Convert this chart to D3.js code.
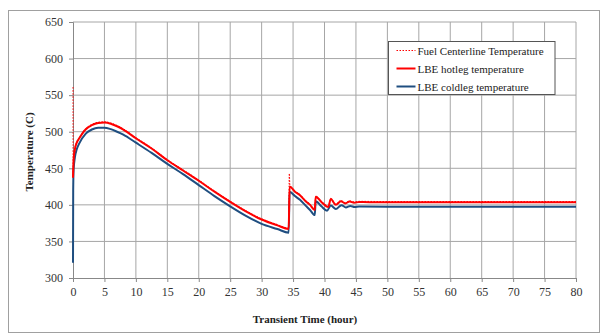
<!DOCTYPE html>
<html>
<head>
<meta charset="utf-8">
<script src="https://cdn.jsdelivr.net/npm/d3@7"></script>
<style>
  body { margin: 0; background: #fff; }
  svg { display: block; font-family: "Liberation Serif", "Times New Roman", serif; }
</style>
</head>
<body>
<div id="chart"></div>
<script>
// values (hours, degrees C)
const hotTime = [0, 0.1, 0.3, 0.6, 1, 2, 3, 4, 5, 6, 7, 8, 10, 12.5, 15, 17.5, 20, 22.5, 25, 27.5, 30, 32.5, 34.3,
  34.45, 35.3, 36.1, 37, 37.7, 38.45, 38.6, 39.5, 40.6, 41, 41.8, 42.6, 43.3, 44, 44.7, 45.5, 50, 60, 70, 80];
const hotTemp = [437, 462, 476, 485, 491, 503, 509, 512, 512.5, 511, 507.5, 503, 491, 477, 461, 447, 433, 418, 404, 391, 380, 372, 367,
  425, 418, 413, 405, 400, 393, 411, 404, 397, 408, 400, 405, 402, 404.5, 403, 403.8, 403.5, 403.5, 403.5, 403.5];

const coldTime = [0, 0.03, 0.1, 0.3, 0.6, 1, 2, 3, 4, 5, 6, 7, 8, 10, 12.5, 15, 17.5, 20, 22.5, 25, 27.5, 30, 32.5, 34.3,
  34.45, 35.3, 36.1, 37, 37.7, 38.45, 38.6, 39.5, 40.4, 41, 41.8, 42.7, 43.4, 44.1, 44.8, 45.5, 50, 60, 70, 80];
const coldTemp = [321, 420, 448, 465, 476, 484, 497, 503, 505.5, 505.5, 503.5, 500, 496, 485, 471, 456, 442, 427, 412, 398, 385, 374, 367, 362,
  418, 412, 407, 399, 393, 386, 405, 398, 392, 399, 394.3, 399.5, 396.5, 398.5, 397.2, 397.7, 397.5, 397.5, 397.5, 397.5];

const fuelTime = [0, 0.02, 0.1, 0.3, 0.6, 1, 2, 3, 4, 5, 6, 7, 8, 10, 12.5, 15, 17.5, 20, 22.5, 25, 27.5, 30, 32.5, 34.3,
  34.4, 34.5, 35.3, 36.1, 37, 37.7, 38.45, 38.6, 39.5, 40.6, 41, 41.8, 42.6, 43.3, 44, 44.7, 45.5, 50, 60, 70, 80];
const fuelTemp = [561, 440, 463, 477, 486, 492, 504, 510, 513, 513.5, 512, 508.5, 504, 492, 478, 462, 448, 434, 419, 405, 392, 381, 373, 368,
  443, 426, 419, 414, 406, 401, 394, 412, 405, 398, 409, 401, 406, 403, 405.5, 404, 404.8, 404.5, 404.5, 404.5, 404.5];

const xTicks = d3.range(0, 81, 5);
const yTicks = d3.range(300, 651, 50);

const legendItems = [
  { label: "Fuel Centerline Temperature", color: "#ff0000", dash: "1.5,1.5", width: 1 },
  { label: "LBE hotleg temperature", color: "#ff0000", dash: null, width: 2 },
  { label: "LBE coldleg temperature", color: "#1f4e80", dash: null, width: 2 }
];

const W = 605, H = 333;
const plot = { left: 73, right: 576, top: 22, bottom: 278 };
const serif = "Liberation Serif, Times New Roman, serif";

const svg = d3.select("#chart").append("svg")
  .attr("width", W)
  .attr("height", H);

// outer chart border
svg.append("rect")
  .attr("x", 8.5).attr("y", 10.5)
  .attr("width", 591).attr("height", 322)
  .attr("fill", "#fff")
  .attr("stroke", "#a0a0a0");

const x = d3.scaleLinear().domain([0, 80]).range([plot.left, plot.right]);
const y = d3.scaleLinear().domain([300, 650]).range([plot.bottom, plot.top]);

// gridlines
svg.append("g")
  .selectAll("line")
  .data(xTicks.slice(1))
  .join("line")
  .attr("x1", d => x(d)).attr("x2", d => x(d))
  .attr("y1", plot.top).attr("y2", plot.bottom)
  .attr("stroke", "#a6a6a6").attr("stroke-width", 1);

svg.append("g")
  .selectAll("line")
  .data(yTicks.slice(1))
  .join("line")
  .attr("x1", plot.left).attr("x2", plot.right)
  .attr("y1", d => y(d)).attr("y2", d => y(d))
  .attr("stroke", "#a6a6a6").attr("stroke-width", 1);

// axes
const xAxis = d3.axisBottom(x).tickValues(xTicks).tickSize(4).tickPadding(5);
const yAxis = d3.axisLeft(y).tickValues(yTicks).tickSize(4).tickPadding(6);

const gx = svg.append("g")
  .attr("transform", "translate(0," + plot.bottom + ")")
  .call(xAxis);
const gy = svg.append("g")
  .attr("transform", "translate(" + plot.left + ",0)")
  .call(yAxis);

[gx, gy].forEach(g => {
  g.attr("font-family", serif).attr("font-size", 12);
  g.select(".domain").attr("stroke", "#888");
  g.selectAll(".tick line").attr("stroke", "#888");
  g.selectAll(".tick text").attr("fill", "#333");
});

// series
const line = d3.line()
  .x(d => x(d[0]))
  .y(d => y(d[1]))
  .curve(d3.curveMonotoneX);

const fuel = d3.zip(fuelTime, fuelTemp);
const hot = d3.zip(hotTime, hotTemp);
const cold = d3.zip(coldTime, coldTemp);

svg.append("path")
  .datum(cold)
  .attr("d", line)
  .attr("fill", "none")
  .attr("stroke", legendItems[2].color)
  .attr("stroke-width", 2);

svg.append("path")
  .datum(fuel)
  .attr("d", line)
  .attr("fill", "none")
  .attr("stroke", legendItems[0].color)
  .attr("stroke-width", 1)
  .attr("stroke-dasharray", legendItems[0].dash);

svg.append("path")
  .datum(hot)
  .attr("d", line)
  .attr("fill", "none")
  .attr("stroke", legendItems[1].color)
  .attr("stroke-width", 2);

// axis titles
svg.append("text")
  .attr("x", 305).attr("y", 323)
  .attr("text-anchor", "middle")
  .attr("font-family", serif)
  .style("font-size", "11px")
  .style("font-weight", "bold")
  .attr("fill", "#222")
  .text("Transient Time (hour)");

svg.append("text")
  .attr("transform", "translate(33,152) rotate(-90)")
  .attr("text-anchor", "middle")
  .attr("font-family", serif)
  .style("font-size", "11px")
  .style("font-weight", "bold")
  .attr("fill", "#222")
  .text("Temperature (C)");

// legend
const lg = svg.append("g").attr("transform", "translate(388.5,41.5)");
lg.append("rect")
  .attr("width", 166.5).attr("height", 53)
  .attr("fill", "#fff")
  .attr("stroke", "#555");

const row = lg.selectAll("g")
  .data(legendItems)
  .join("g")
  .attr("transform", (d, i) => "translate(0," + (9 + i * 18) + ")");

row.append("line")
  .attr("x1", 8).attr("x2", 27)
  .attr("stroke", d => d.color)
  .attr("stroke-width", d => d.width)
  .attr("stroke-dasharray", d => d.dash);

row.append("text")
  .attr("x", 29).attr("y", 4)
  .attr("font-family", serif)
  .style("font-size", "11px")
  .attr("fill", "#222")
  .text(d => d.label);
</script>
</body>
</html>
